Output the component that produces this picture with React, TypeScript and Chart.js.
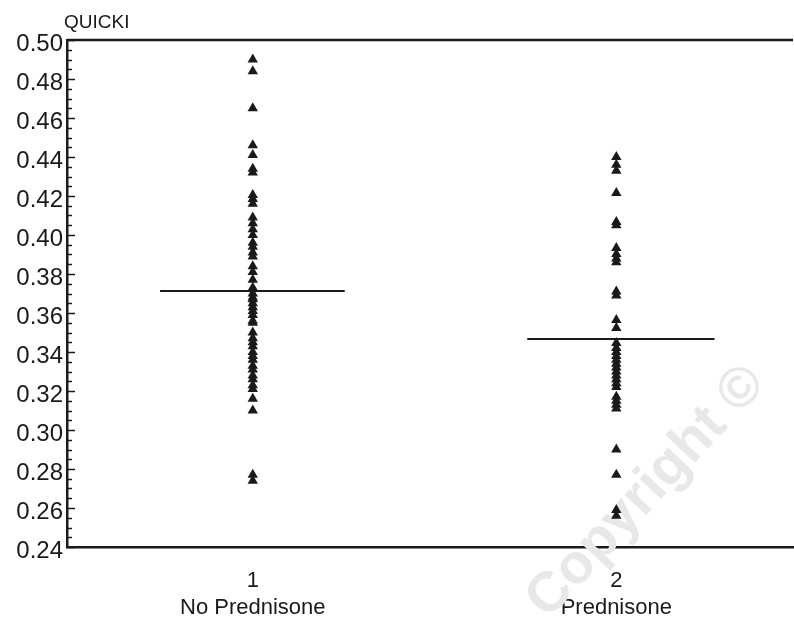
import React, { useEffect, useRef } from "react";
import { Chart, registerables } from "chart.js";

Chart.register(...registerables);

const categories = ["No Prednisone", "Prednisone"];
const categoryNumbers = ["1", "2"];
const yTickLabels = ["0.24", "0.26", "0.28", "0.30", "0.32", "0.34", "0.36", "0.38", "0.40", "0.42", "0.44", "0.46", "0.48", "0.50"];

const noPrednisone = [
  0.490, 0.484, 0.465, 0.446, 0.441, 0.434, 0.432, 0.4205, 0.4185, 0.416,
  0.409, 0.406, 0.403, 0.400, 0.396, 0.394, 0.391, 0.389, 0.384, 0.381,
  0.377, 0.373, 0.370, 0.368, 0.367, 0.365, 0.363, 0.361, 0.359, 0.356,
  0.355, 0.350, 0.347, 0.345, 0.343, 0.340, 0.338, 0.336, 0.333, 0.331,
  0.328, 0.326, 0.323, 0.321, 0.316, 0.310, 0.277, 0.274,
];
const prednisone = [
  0.440, 0.436, 0.433, 0.4215, 0.4067, 0.405, 0.3933, 0.3903, 0.388, 0.386,
  0.371, 0.369, 0.3564, 0.3523, 0.3446, 0.342, 0.340, 0.338, 0.336, 0.334,
  0.332, 0.330, 0.328, 0.326, 0.324, 0.322, 0.317, 0.315, 0.313, 0.311,
  0.290, 0.277, 0.259, 0.256,
];
const means = [0.3713, 0.3467];

const FONT = "'Liberation Sans', Arial, sans-serif";

const watermarkPlugin = {
  id: "watermark",
  beforeDatasetsDraw(chart: any) {
    const { ctx } = chart;
    ctx.save();
    ctx.translate(548, 620);
    ctx.rotate(-0.82);
    ctx.fillStyle = "#e8e8e8";
    ctx.font = `bold 56px ${FONT}`;
    ctx.textAlign = "left";
    ctx.textBaseline = "alphabetic";
    ctx.fillText("Copyright ©", 0, 0);
    ctx.restore();
  },
};

const decorPlugin = {
  id: "decor",
  afterDraw(chart: any) {
    const { ctx, chartArea, scales } = chart;
    const y = scales.y;
    ctx.save();
    ctx.strokeStyle = "#1a1a1a";
    ctx.lineWidth = 2.5;
    ctx.beginPath();
    ctx.moveTo(chartArea.left, chartArea.top);
    ctx.lineTo(chartArea.right, chartArea.top);
    ctx.stroke();
    ctx.lineWidth = 1.5;
    for (let i = 0; i <= 52; i++) {
      const v = 0.24 + i * 0.005;
      const py = Math.round(y.getPixelForValue(v)) + 0.5;
      const len = i % 4 === 0 ? 8 : 5;
      ctx.beginPath();
      ctx.moveTo(chartArea.left, py);
      ctx.lineTo(chartArea.left + len, py);
      ctx.stroke();
    }
    ctx.fillStyle = "#1a1a1a";
    ctx.font = `19px ${FONT}`;
    ctx.textAlign = "left";
    ctx.textBaseline = "middle";
    ctx.fillText("QUICKI", chartArea.left - 3, 23);
    ctx.restore();
  },
};

export default function App() {
  const ref = useRef<HTMLCanvasElement>(null);
  useEffect(() => {
    if (!ref.current) return;
    const toPts = (arr: number[], x: number) => arr.map((v) => ({ x, y: v }));
    const chart = new Chart(ref.current, {
      type: "scatter",
      data: {
        datasets: [
          {
            label: categories[0],
            data: toPts(noPrednisone, 1),
            pointStyle: "triangle",
            pointRadius: 6,
            backgroundColor: "#1a1a1a",
            borderColor: "#1a1a1a",
            borderWidth: 0,
          },
          {
            label: categories[1],
            data: toPts(prednisone, 2),
            pointStyle: "triangle",
            pointRadius: 6,
            backgroundColor: "#1a1a1a",
            borderColor: "#1a1a1a",
            borderWidth: 0,
          },
          {
            type: "line",
            label: "mean1",
            data: [{ x: 0.745, y: means[0] }, { x: 1.253, y: means[0] }],
            borderColor: "#1a1a1a",
            borderWidth: 2,
            pointRadius: 0,
          } as any,
          {
            type: "line",
            label: "mean2",
            data: [{ x: 1.755, y: means[1] }, { x: 2.27, y: means[1] }],
            borderColor: "#1a1a1a",
            borderWidth: 2,
            pointRadius: 0,
          } as any,
        ],
      },
      options: {
        animation: false,
        responsive: false,
        layout: { padding: { top: 40, right: 0, left: 0, bottom: 0 } },
        plugins: { legend: { display: false }, tooltip: { enabled: false } },
        scales: {
          x: {
            type: "linear",
            min: 0.489,
            max: 2.486,
            afterBuildTicks: (s: any) => {
              s.ticks = [{ value: 1 }, { value: 2 }];
            },
            afterFit: (s: any) => {
              s.height = 74;
            },
            grid: { display: false, drawTicks: false },
            border: { display: true, color: "#1a1a1a", width: 2.5 },
            ticks: {
              padding: 21,
              color: "#1a1a1a",
              font: { family: FONT, size: 22, lineHeight: 1.2 },
              callback: (v: any) => {
                const i = Math.round(v) - 1;
                return [categoryNumbers[i], categories[i]];
              },
            },
          },
          y: {
            min: 0.24,
            max: 0.5,
            afterBuildTicks: (s: any) => {
              s.ticks = yTickLabels.map((t) => ({ value: parseFloat(t) }));
            },
            afterFit: (s: any) => {
              s.width = 67;
            },
            grid: { display: false, drawTicks: false },
            border: { display: true, color: "#1a1a1a", width: 2.5 },
            ticks: {
              padding: 4,
              labelOffset: 4,
              color: "#1a1a1a",
              font: { family: FONT, size: 24 },
              callback: (v: any) => Number(v).toFixed(2),
            },
          },
        },
      },
      plugins: [watermarkPlugin, decorPlugin],
    });
    return () => chart.destroy();
  }, []);
  return (
    <div style={{ position: "absolute", left: 0, top: 0, width: 794, height: 621, overflow: "hidden", background: "#fff" }}>
      <canvas ref={ref} width={799} height={621} style={{ display: "block" }} />
    </div>
  );
}
